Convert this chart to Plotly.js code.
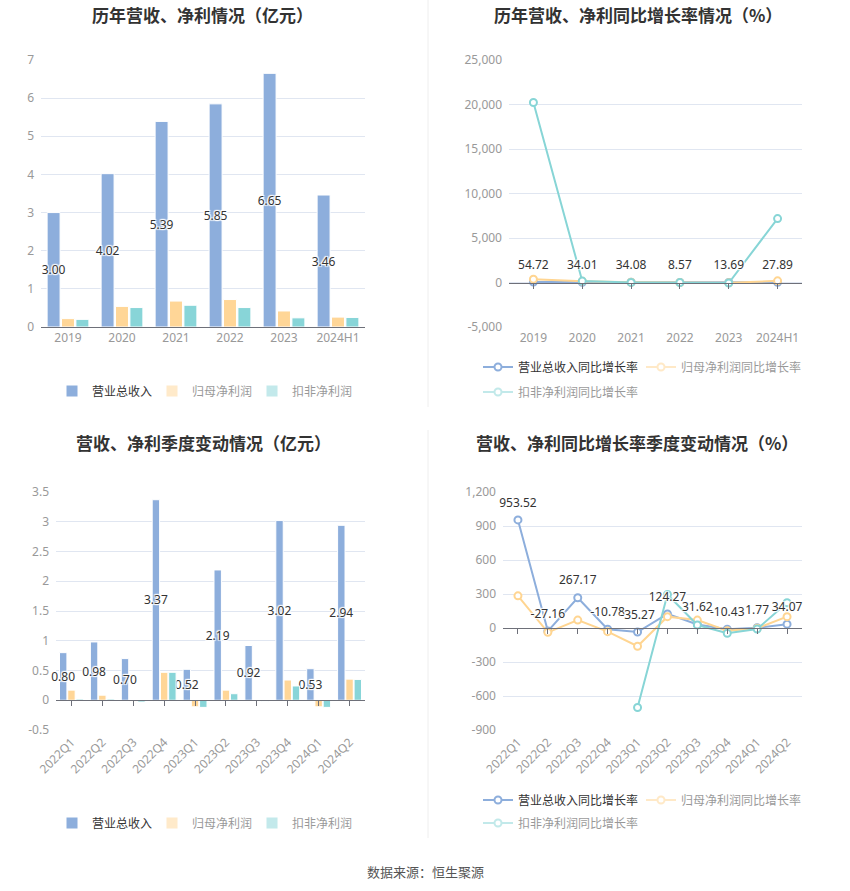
<!DOCTYPE html>
<html>
<head>
<meta charset="utf-8">
<script src="https://cdn.plot.ly/plotly-3.0.1.min.js"></script>
<style>
html,body{margin:0;padding:0;background:#fff;}
#chart{width:850px;height:891px;}
</style>
</head>
<body>
<div id="chart"></div>
<script>
// ---------- data ----------
var years = ['2019', '2020', '2021', '2022', '2023', '2024H1'];
var revenue = [3.00, 4.02, 5.39, 5.85, 6.65, 3.46];
var netProfit = [0.22, 0.54, 0.68, 0.72, 0.42, 0.26];
var deductedProfit = [0.20, 0.51, 0.57, 0.51, 0.24, 0.25];

var revenueYoY = [54.72, 34.01, 34.08, 8.57, 13.69, 27.89];
var netProfitYoY = [375, 148, 26, 5, -41, 190];
var deductedYoY = [20230, 155, 12, -10, -55, 7180];

var quarters = ['2022Q1', '2022Q2', '2022Q3', '2022Q4', '2023Q1', '2023Q2', '2023Q3', '2023Q4', '2024Q1', '2024Q2'];
var qRevenue = [0.80, 0.98, 0.70, 3.37, 0.52, 2.19, 0.92, 3.02, 0.53, 2.94];
var qNetProfit = [0.17, 0.085, -0.015, 0.47, -0.11, 0.17, -0.01, 0.34, -0.11, 0.355];
var qDeductedProfit = [0.02, 0.02, -0.03, 0.47, -0.12, 0.11, -0.02, 0.24, -0.12, 0.35];

var qRevenueYoY = [953.52, -27.16, 267.17, -10.78, -35.27, 124.27, 31.62, -10.43, 1.77, 34.07];
var qNetProfitYoY = [284, -38, 70, -32, -161, 100, 70, -24, -3, 100];
var qDeductedYoY = [null, null, null, null, -701, 296, 26, -47, -9, 223];

var seriesNames = ['营业总收入', '归母净利润', '扣非净利润'];
var rateNames = ['营业总收入同比增长率', '归母净利润同比增长率', '扣非净利润同比增长率'];
var titles = ['历年营收、净利情况（亿元）', '历年营收、净利同比增长率情况（%）',
              '营收、净利季度变动情况（亿元）', '营收、净利同比增长率季度变动情况（%）'];
var sourceText = '数据来源：恒生聚源';

var y1Ticks = [0, 1, 2, 3, 4, 5, 6, 7];
var y1Text = ['0', '1', '2', '3', '4', '5', '6', '7'];
var y2Ticks = [-5000, 0, 5000, 10000, 15000, 20000, 25000];
var y2Text = ['-5,000', '0', '5,000', '10,000', '15,000', '20,000', '25,000'];
var y3Ticks = [-0.5, 0, 0.5, 1, 1.5, 2, 2.5, 3, 3.5];
var y3Text = ['-0.5', '0', '0.5', '1', '1.5', '2', '2.5', '3', '3.5'];
var y4Ticks = [-900, -600, -300, 0, 300, 600, 900, 1200];
var y4Text = ['-900', '-600', '-300', '0', '300', '600', '900', '1,200'];

// ---------- style ----------
var C_BLUE = '#8DAEDC', C_ORANGE = '#FFD697', C_TEAL = '#88D5D8';
var L_BLUE = '#8DAEDC', L_ORANGE = '#FFD591', L_TEAL = '#87D5D6';
var FONT = '"Noto Sans", "Noto Sans CJK SC", sans-serif';
var GRID = '#E0E6F1', AXIS = '#6E7079', TICKC = '#999999';
var shadow = '1px 1px 1px #fff, -1px -1px 1px #fff, 1px -1px 1px #fff, -1px 1px 1px #fff, 0 0 2px #fff';

var W = 850, H = 891;
function px(x) { return x / W; }
function py(y) { return (H - y) / H; }

var dTop = [py(327), py(60)];
var dBot = [py(730), py(492)];
var xTL = [px(41), px(365)], xTR = [px(509), px(802)];
var xBL = [px(56), px(365)], xBR = [px(503), px(802)];

var r1 = [0, 7], r2 = [-5000, 25000], r3 = [-0.5, 3.5], r4 = [-900, 1200];
function zeroPos(dom, r) { return dom[0] + (0 - r[0]) / (r[1] - r[0]) * (dom[1] - dom[0]); }

function idx(a) { return a.map(function (_, i) { return i; }); }

function barTrace(x, y, name, color, xa, ya, leg, opts) {
  var t = {
    type: 'bar', x: x, y: y, name: name, xaxis: xa, yaxis: ya, legend: leg,
    marker: { color: color, line: { color: '#ffffff', width: 1 } },
    cliponaxis: false
  };
  for (var k in opts) t[k] = opts[k];
  return t;
}
function lineTrace(x, y, name, color, xa, ya, leg, opts) {
  var t = {
    type: 'scatter', mode: 'lines+markers', x: x, y: y, name: name, xaxis: xa, yaxis: ya, legend: leg,
    line: { color: color, width: 2 },
    marker: { symbol: 'circle', size: 7, color: '#ffffff', line: { color: color, width: 2 } },
    connectgaps: false, cliponaxis: false
  };
  for (var k in opts) t[k] = opts[k];
  return t;
}
// text labels for the revenue growth lines; drawn on the label axis so it exists
function rateLabels(cats, vals, xa, ya) {
  return {
    type: 'scatter', mode: 'markers+text', x: idx(cats), y: vals, xaxis: xa, yaxis: ya, showlegend: false,
    marker: { size: 15, color: 'rgba(0,0,0,0)' },
    text: vals.map(function (v) { return v.toFixed(2); }), textposition: 'top center',
    textfont: { family: FONT, size: 12, color: '#333333', shadow: shadow }, cliponaxis: false, hoverinfo: 'skip'
  };
}

var barLabel = {
  textposition: 'inside', insidetextanchor: 'middle', constraintext: 'none', textangle: 0,
  insidetextfont: { family: FONT, size: 12, color: '#333333', shadow: shadow },
  textfont: { family: FONT, size: 12, color: '#333333', shadow: shadow }
};

var data = [];
// ---- Top-left: annual bars ----
data.push(barTrace(years, revenue, seriesNames[0], C_BLUE, 'x', 'y', 'legend',
  Object.assign({ text: revenue.map(function (v) { return v.toFixed(2); }), legendrank: 1 }, barLabel)));
data.push(barTrace(years, netProfit, seriesNames[1], C_ORANGE, 'x', 'y', 'legend', { showlegend: false }));
data.push(barTrace(years, deductedProfit, seriesNames[2], C_TEAL, 'x', 'y', 'legend', { showlegend: false }));
data.push(barTrace(years, netProfit, seriesNames[1], C_ORANGE, 'x', 'y', 'legend', { visible: 'legendonly', legendrank: 2 }));
data.push(barTrace(years, deductedProfit, seriesNames[2], C_TEAL, 'x', 'y', 'legend', { visible: 'legendonly', legendrank: 3 }));

// ---- Top-right: annual growth lines ----
data.push(lineTrace(years, revenueYoY, rateNames[0], L_BLUE, 'x2', 'y2', 'legend2', { legendrank: 1 }));
data.push(lineTrace(years, netProfitYoY, rateNames[1], L_ORANGE, 'x2', 'y2', 'legend2', { showlegend: false }));
data.push(lineTrace(years, deductedYoY, rateNames[2], L_TEAL, 'x2', 'y2', 'legend2', { showlegend: false }));
data.push(lineTrace(years, netProfitYoY, rateNames[1], L_ORANGE, 'x2', 'y2', 'legend2', { visible: 'legendonly', legendrank: 2 }));
data.push(lineTrace(years, deductedYoY, rateNames[2], L_TEAL, 'x2', 'y2', 'legend3', { visible: 'legendonly', legendrank: 3 }));
data.push(rateLabels(years, revenueYoY, 'x5', 'y2'));

// ---- Bottom-left: quarterly bars ----
data.push(barTrace(quarters, qRevenue, seriesNames[0], C_BLUE, 'x3', 'y3', 'legend4',
  Object.assign({ text: qRevenue.map(function (v) { return v.toFixed(2); }), legendrank: 1 }, barLabel)));
data.push(barTrace(quarters, qNetProfit, seriesNames[1], C_ORANGE, 'x3', 'y3', 'legend4', { showlegend: false }));
data.push(barTrace(quarters, qDeductedProfit, seriesNames[2], C_TEAL, 'x3', 'y3', 'legend4', { showlegend: false }));
data.push(barTrace(quarters, qNetProfit, seriesNames[1], C_ORANGE, 'x3', 'y3', 'legend4', { visible: 'legendonly', legendrank: 2 }));
data.push(barTrace(quarters, qDeductedProfit, seriesNames[2], C_TEAL, 'x3', 'y3', 'legend4', { visible: 'legendonly', legendrank: 3 }));
// anchor trace for the bottom label axis (draws nothing)
data.push({ type: 'scatter', mode: 'none', x: idx(quarters), y: qRevenue, xaxis: 'x6', yaxis: 'y3', showlegend: false, hoverinfo: 'skip' });

// ---- Bottom-right: quarterly growth lines ----
data.push(lineTrace(quarters, qRevenueYoY, rateNames[0], L_BLUE, 'x4', 'y4', 'legend5', { legendrank: 1 }));
data.push(lineTrace(quarters, qNetProfitYoY, rateNames[1], L_ORANGE, 'x4', 'y4', 'legend5', { showlegend: false }));
data.push(lineTrace(quarters, qDeductedYoY, rateNames[2], L_TEAL, 'x4', 'y4', 'legend5', { showlegend: false }));
data.push(lineTrace(quarters, qNetProfitYoY, rateNames[1], L_ORANGE, 'x4', 'y4', 'legend5', { visible: 'legendonly', legendrank: 2 }));
data.push(lineTrace(quarters, qDeductedYoY, rateNames[2], L_TEAL, 'x4', 'y4', 'legend6', { visible: 'legendonly', legendrank: 3 }));
data.push(rateLabels(quarters, qRevenueYoY, 'x7', 'y4'));

// ---------- axes ----------
function yAxis(dom, r, tv, tt, xa) {
  return {
    domain: dom, range: r, anchor: xa, tickmode: 'array', tickvals: tv, ticktext: tt,
    showgrid: true, gridcolor: GRID, gridwidth: 1, zeroline: false, showline: false,
    ticks: '', ticklabelstandoff: 6, tickfont: { family: FONT, size: 12, color: TICKC }, fixedrange: true
  };
}
function xCat(dom, n, ya, pos, showLabels, cats, tickStyle) {
  var a = {
    domain: dom, type: 'category', range: [-0.5, n - 0.5], showgrid: false, zeroline: false,
    showline: true, linecolor: AXIS, linewidth: 1, ticks: tickStyle, ticklen: 5, tickcolor: AXIS,
    tickfont: { family: FONT, size: 12, color: TICKC }, showticklabels: showLabels, fixedrange: true,
    categoryorder: 'array', categoryarray: cats, tickangle: 0
  };
  if (pos === null) { a.anchor = ya; } else { a.anchor = 'free'; a.position = pos; }
  return a;
}
function xLabels(base, ya, cats, angle) {
  return {
    overlaying: base, anchor: ya, type: 'linear', range: [-0.5, cats.length - 0.5],
    tickmode: 'array', tickvals: idx(cats), ticktext: cats, showgrid: false, zeroline: false,
    showline: false, ticks: '', tickangle: angle, fixedrange: true, ticklabelstandoff: 2,
    tickfont: { family: FONT, size: 12, color: TICKC }
  };
}
function legendAt(x, y, ew) {
  return {
    orientation: 'h', x: px(x), xanchor: 'left', y: py(y), yanchor: 'middle', entrywidth: ew,
    font: { family: FONT, size: 12, color: '#333333' }, bgcolor: 'rgba(0,0,0,0)',
    itemclick: false, itemdoubleclick: false
  };
}
function title(t, x, y) {
  return {
    text: '<b>' + t + '</b>', x: px(x), y: py(y), xref: 'paper', yref: 'paper', xanchor: 'center', yanchor: 'middle',
    showarrow: false, font: { family: '"Noto Sans CJK SC", sans-serif', size: 17, color: '#333333' }
  };
}

var layout = {
  width: W, height: H, margin: { l: 0, r: 0, t: 0, b: 0 },
  paper_bgcolor: '#ffffff', plot_bgcolor: 'rgba(0,0,0,0)',
  font: { family: FONT, size: 12, color: '#333333' },
  barmode: 'group', bargap: 0.2, bargroupgap: 0.1,
  showlegend: true, hovermode: false,
  xaxis: xCat(xTL, years.length, 'y', null, true, years, ''),
  yaxis: yAxis(dTop, r1, y1Ticks, y1Text, 'x'),
  xaxis2: xCat(xTR, years.length, 'y2', zeroPos(dTop, r2), false, years, 'outside'),
  yaxis2: yAxis(dTop, r2, y2Ticks, y2Text, 'x2'),
  xaxis3: xCat(xBL, quarters.length, 'y3', zeroPos(dBot, r3), false, quarters, 'outside'),
  yaxis3: yAxis(dBot, r3, y3Ticks, y3Text, 'x3'),
  xaxis4: xCat(xBR, quarters.length, 'y4', zeroPos(dBot, r4), false, quarters, 'outside'),
  yaxis4: yAxis(dBot, r4, y4Ticks, y4Text, 'x4'),
  xaxis5: xLabels('x2', 'y2', years, 0),
  xaxis6: xLabels('x3', 'y3', quarters, -45),
  xaxis7: xLabels('x4', 'y4', quarters, -45),
  legend: legendAt(52, 391, 55),
  legend2: legendAt(478, 367, 118),
  legend3: legendAt(478, 392, 118),
  legend4: legendAt(52, 823, 55),
  legend5: legendAt(478, 800, 118),
  legend6: legendAt(478, 823, 118),
  annotations: [
    title(titles[0], 202, 14),
    title(titles[1], 638, 14),
    title(titles[2], 203, 443),
    title(titles[3], 637, 443),
    { text: sourceText, x: px(425), y: py(871), xref: 'paper', yref: 'paper', xanchor: 'center', yanchor: 'middle', showarrow: false, font: { family: '"Noto Sans CJK SC", sans-serif', size: 13, color: '#555555' } }
  ],
  shapes: [
    { type: 'line', xref: 'paper', yref: 'paper', x0: px(428), x1: px(428), y0: py(0), y1: py(407), line: { color: '#EEEEEE', width: 1 } },
    { type: 'line', xref: 'paper', yref: 'paper', x0: px(428), x1: px(428), y0: py(430), y1: py(838), line: { color: '#EEEEEE', width: 1 } }
  ]
};

Plotly.newPlot('chart', data, layout, { displayModeBar: false, staticPlot: true });
</script>
</body>
</html>
